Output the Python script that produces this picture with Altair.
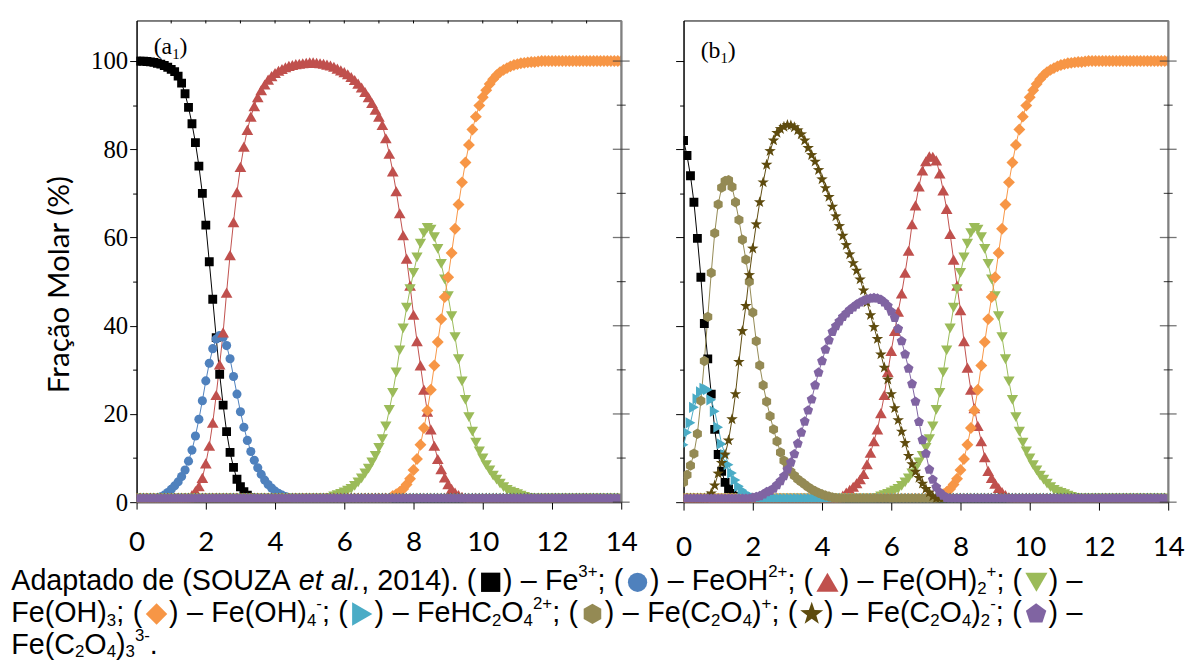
import altair as alt
import pandas as pd

# ---------------------------------------------------------------- data
N = 141                                   # pH 0.0 ... 14.0, step 0.1
PH = [round(i * 0.1, 1) for i in range(N)]
BASE = 0.8                                # level where ~0 % markers sit
TOP = 100.0

SPECIES = ["Fe3+", "FeOH2+", "Fe(OH)2+", "Fe(OH)3", "Fe(OH)4-",
           "FeHC2O4 2+", "Fe(C2O4)+", "Fe(C2O4)2-", "Fe(C2O4)3 3-"]
COLORS = ["#000000", "#4f81bd", "#c0504d", "#9bbb59", "#f79646",
          "#4bacc6", "#948a54", "#5e4b0e", "#8064a2"]
HEX = "M0,-1L0.866,-0.5L0.866,0.5L0,1L-0.866,0.5L-0.866,-0.5Z"
STAR = ("M0,-1L0.235,-0.324L0.951,-0.309L0.38,0.124L0.588,0.809L0,0.4"
        "L-0.588,0.809L-0.38,0.124L-0.951,-0.309L-0.235,-0.324Z")
PENT = "M0,-1L0.951,-0.309L0.588,0.809L-0.588,0.809L-0.951,-0.309Z"
SHAPES = ["square", "circle", "triangle-up", "triangle-down", "diamond",
          "triangle-right", HEX, STAR, PENT]
SIZES = [80, 85, 140, 130, 145, 130, 110, 150, 110]
CAP_SIZES = [380, 380, 500, 500, 470, 560, 420, 600, 470]

# panel (a1): Fe(III) hydrolysis -- (start pH, values every 0.1)
A_FE3 = (0.0, [100.0, 100.0, 100.0, 99.9, 99.8, 99.7, 99.5, 99.3, 99.0, 98.6,
               98.1, 97.6, 96.6, 95.0, 92.6, 89.5, 85.8, 81.5, 76.2, 70.0,
               62.8, 54.5, 46.0, 37.3, 29.0, 22.0, 16.0, 11.3, 7.9, 5.2,
               3.5, 2.4, 1.6, 1.1])
A_FEOH = (0.7, [1.2, 1.6, 2.2, 2.9, 3.7, 4.6, 5.8, 7.3, 9.3, 11.8,
                15.0, 18.8, 23.0, 27.5, 31.5, 34.8, 37.0, 37.8, 37.4, 35.5,
                32.5, 28.5, 24.5, 20.5, 17.0, 14.0, 11.5, 9.5, 7.8, 6.3,
                5.0, 4.0, 3.2, 2.5, 2.0, 1.6, 1.3, 1.0])
A_FEOH2 = (1.5, [0.9, 1.6, 2.5, 3.6, 5.5, 8.8, 12.8, 18.0, 24.3, 31.2,
                 38.5, 47.5, 56.0, 63.5, 70.3, 76.0, 80.6, 84.4, 87.4, 89.8,
                 91.8, 93.4, 94.7, 95.8, 96.6, 97.3, 97.8, 98.2, 98.6, 98.9,
                 99.1, 99.3, 99.4, 99.5, 99.6, 99.7, 99.7, 99.6, 99.5, 99.4,
                 99.2, 99.0, 98.7, 98.3, 97.9, 97.5, 97.0, 96.4, 95.7, 94.9,
                 94.0, 93.0, 91.8, 90.5, 89.0, 87.4, 85.5, 82.5, 79.0, 75.0,
                 70.5, 65.5, 60.5, 55.2, 49.1, 42.5, 36.5, 31.0, 25.5, 20.5,
                 16.5, 12.8, 9.8, 7.5, 5.6, 4.1, 3.0, 2.2, 1.6, 1.2, 0.9])
FEOH3 = (5.6, [1.0, 1.3, 1.6, 1.9, 2.2, 2.6, 3.0, 3.7, 4.5, 5.4,
               6.5, 7.6, 9.0, 10.5, 12.3, 14.3, 17.2, 20.9, 24.8, 29.4,
               34.4, 39.4, 44.1, 48.3, 52.0, 55.5, 58.6, 61.0, 62.2, 61.8,
               60.1, 57.4, 54.0, 50.5, 46.7, 42.2, 37.4, 32.4, 27.4, 23.2,
               19.3, 16.0, 13.5, 11.5, 9.9, 8.4, 7.2, 6.0, 5.1, 4.2,
               3.4, 2.8, 2.4, 2.1, 1.8, 1.5, 1.2, 1.0])
FEOH4 = (7.4, [1.4, 1.8, 2.3, 3.0, 4.0, 5.3, 7.3, 9.8, 13.0, 16.8,
               20.8, 25.5, 31.0, 36.3, 41.5, 46.5, 51.0, 56.5, 62.0, 67.5,
               72.5, 77.0, 81.0, 84.5, 87.4, 89.9, 91.8, 93.4, 94.8, 95.9,
               96.8, 97.5, 98.0, 98.4, 98.8, 99.1, 99.3, 99.5, 99.6, 99.7,
               99.8, 99.8, 99.9])

# panel (b1): with oxalate
B_FE3 = (0.0, [82.0, 78.6, 74.0, 68.0, 59.8, 51.0, 40.5, 32.5, 24.5, 16.5,
               10.8, 7.0, 4.5, 3.0, 2.0, 1.3])
B_FEOH2 = (4.5, [1.0, 1.5, 2.2, 2.8, 3.5, 4.3, 5.2, 6.4, 8.6, 11.2,
                 13.8, 16.5, 20.2, 24.3, 29.5, 34.3, 38.8, 43.2, 47.3, 52.0,
                 57.0, 63.0, 67.3, 71.6, 75.2, 77.3, 78.4, 78.3, 77.5, 74.5,
                 70.7, 66.5, 60.8, 55.0, 49.1, 43.5, 36.5, 30.5, 25.5, 21.3,
                 17.3, 13.8, 10.2, 7.1, 5.5, 4.2, 3.2, 2.3, 1.6, 1.1])
B_HOX = (0.0, [13.0, 15.8, 18.0, 21.5, 23.4, 25.0, 25.8, 25.5, 23.2, 20.6,
               17.0, 13.2, 10.8, 8.5, 6.6, 5.0, 3.6, 2.7, 2.0, 1.5, 1.2, 0.9])
B_OX1 = (0.0, [4.5, 6.2, 8.3, 11.0, 15.5, 23.0, 32.0, 42.0, 52.0, 61.0,
               67.5, 71.3, 72.8, 73.0, 71.5, 68.0, 64.0, 59.5, 55.0, 50.0,
               43.0, 36.5, 31.0, 26.5, 22.8, 19.5, 16.5, 13.8, 11.3, 9.4,
               8.0, 6.9, 6.0, 5.2, 4.6, 4.0, 3.4, 2.9, 2.5, 2.1,
               1.8, 1.5, 1.3, 1.1, 0.9])
B_OX2 = (0.6, [0.8, 1.2, 2.0, 3.8, 6.5, 8.9, 10.8, 14.0, 18.8, 24.5,
               31.8, 38.8, 44.5, 51.5, 57.5, 63.0, 68.0, 72.5, 76.5, 79.6,
               82.0, 83.7, 84.6, 85.1, 85.5, 85.4, 85.0, 84.3, 83.4, 82.0,
               80.3, 78.7, 77.2, 75.3, 73.2, 71.2, 69.2, 67.0, 64.8, 62.6,
               60.4, 58.3, 56.2, 54.2, 52.5, 50.5, 48.0, 45.3, 42.4, 39.7,
               37.0, 33.5, 30.5, 27.8, 24.5, 21.3, 18.6, 16.0, 13.4, 10.5,
               8.6, 6.9, 5.5, 4.2, 3.0, 2.2, 1.3, 0.8])
B_OX3 = (1.9, [0.8, 1.0, 1.2, 1.4, 1.8, 2.3, 2.6, 3.1, 3.9, 4.8,
               5.9, 7.4, 9.0, 10.9, 13.3, 15.8, 18.3, 20.8, 23.3, 26.5,
               29.4, 32.0, 34.6, 36.7, 38.6, 39.9, 41.0, 42.0, 42.8, 43.6,
               44.2, 44.8, 45.3, 45.7, 46.0, 46.2, 46.3, 46.2, 45.9, 45.3,
               44.5, 43.2, 41.8, 39.3, 36.5, 33.5, 30.3, 26.8, 22.8, 18.2,
               14.1, 11.0, 7.4, 5.1, 3.4, 2.2, 1.5, 1.0])
ZERO = (0.0, [])

PANEL_A = [A_FE3, A_FEOH, A_FEOH2, FEOH3, FEOH4, ZERO, ZERO, ZERO, ZERO]
PANEL_B = [B_FE3, ZERO, B_FEOH2, FEOH3, FEOH4, B_HOX, B_OX1, B_OX2, B_OX3]
AFTER = [BASE, BASE, BASE, BASE, TOP, BASE, BASE, BASE, BASE]

X_TICKS = list(range(0, 15))
Y_TICKS = list(range(0, 101, 10))
Y_MAJOR = list(range(0, 101, 20))
Y_MINOR = list(range(10, 100, 20))
TOP_TICKS = list(range(1, 14))

# ---------------------------------------------------------------- layout
W, H = 490, 487
PLOT_LEFT, PLOT_TOP = 136.7, 15.0


def spread(series, after):
    start, vals = series
    i0 = int(round(start * 10))
    out = [BASE] * i0 + list(vals)
    return out + [after] * (N - len(out))


def frame(panel):
    rows = []
    for k, (sp, ser, aft) in enumerate(zip(SPECIES, panel, AFTER)):
        for x, y in zip(PH, spread(ser, aft)):
            rows.append({"x": x, "y": y, "species": sp, "k": k, "sz": SIZES[k]})
    return pd.DataFrame(rows)


cscale = alt.Scale(domain=SPECIES, range=COLORS)
sscale = alt.Scale(domain=SPECIES, range=SHAPES)
xscale = alt.Scale(domain=[0, 14], nice=False, zero=False)
yscale = alt.Scale(domain=[0, 109.2], nice=False, zero=False)

# ---------------------------------------------------------------- caption
ARIAL = {" ": 278, "(": 333, ")": 333, "+": 584, ",": 278, "-": 333, ".": 278,
         ";": 278, "\u2013": 556, "A": 667, "C": 722, "F": 611, "H": 722,
         "O": 778, "S": 667, "U": 722, "Z": 611, "a": 556, "d": 556, "e": 556,
         "l": 222, "o": 556, "p": 556, "t": 278}
CAP_FS, SUB_FS = 29, 17
SUP_DY, SUB_DY = -13, 4
SYM_W = 27.0
D = " \u2013 "
CAPTION = [
    [("Adaptado de (SOUZA ", "n"), ("et al.", "i"), (", 2014). (", "n"),
     ("Fe3+", "sym"), (")" + D + "Fe", "n"), ("3+", "sup"), ("; (", "n"),
     ("FeOH2+", "sym"), (")" + D + "FeOH", "n"), ("2+", "sup"), ("; (", "n"),
     ("Fe(OH)2+", "sym"), (")" + D + "Fe(OH)", "n"), ("2", "sub"), ("+", "sup"),
     ("; (", "n"), ("Fe(OH)3", "sym"), (") \u2013", "n")],
    [("Fe(OH)", "n"), ("3", "sub"), ("; (", "n"), ("Fe(OH)4-", "sym"),
     (")" + D + "Fe(OH)", "n"), ("4", "sub"), ("-", "sup"), ("; (", "n"),
     ("FeHC2O4 2+", "sym"), (")" + D + "FeHC", "n"), ("2", "sub"), ("O", "n"),
     ("4", "sub"), ("2+", "sup"), ("; (", "n"), ("Fe(C2O4)+", "sym"),
     (")" + D + "Fe(C", "n"), ("2", "sub"), ("O", "n"), ("4", "sub"), (")", "n"),
     ("+", "sup"), ("; (", "n"), ("Fe(C2O4)2-", "sym"), (")" + D + "Fe(C", "n"),
     ("2", "sub"), ("O", "n"), ("4", "sub"), (")", "n"), ("2", "sub"),
     ("-", "sup"), ("; (", "n"), ("Fe(C2O4)3 3-", "sym"), (") \u2013", "n")],
    [("Fe(C", "n"), ("2", "sub"), ("O", "n"), ("4", "sub"), (")", "n"),
     ("3", "sub"), ("3-", "sup"), (".", "n")],
]
CAP_BASE = [591, 623, 655]
CAP_LEFT = 10
CAP_RIGHT = [1093, 1093, None]


def tw(s, fs):
    return sum(ARIAL.get(c, 556) for c in s) * fs / 1000.0


def layout_caption():
    texts, syms = [], []
    for segs, by, right in zip(CAPTION, CAP_BASE, CAP_RIGHT):
        nat, nsp = 0.0, 0
        for s, kind in segs:
            if kind == "sym":
                nat += SYM_W
            elif kind in ("sup", "sub"):
                nat += tw(s, SUB_FS)
            else:
                nat += tw(s, CAP_FS)
                nsp += s.count(" ")
        extra = (right - CAP_LEFT - nat) / nsp if right else 0.0
        x = CAP_LEFT
        for s, kind in segs:
            if kind == "sym":
                k = SPECIES.index(s)
                syms.append({"px": x + SYM_W / 2 + 1 - PLOT_LEFT,
                             "py": by - 8 - PLOT_TOP, "species": s,
                             "sz": CAP_SIZES[k]})
                x += SYM_W
            elif kind in ("sup", "sub"):
                dy = SUP_DY if kind == "sup" else SUB_DY
                texts.append({"px": x - PLOT_LEFT, "py": by + dy - PLOT_TOP,
                              "t": s, "fs": SUB_FS, "st": "normal"})
                x += tw(s, SUB_FS)
            else:
                st = "italic" if kind == "i" else "normal"
                word = ""
                for ch in s + "\0":
                    if ch in (" ", "\0"):
                        if word:
                            texts.append({"px": x - PLOT_LEFT, "py": by - PLOT_TOP,
                                          "t": word, "fs": CAP_FS, "st": st})
                            x += tw(word, CAP_FS)
                        word = ""
                        if ch == " ":
                            x += tw(" ", CAP_FS) + extra
                    else:
                        word += ch
    return pd.DataFrame(texts), pd.DataFrame(syms)


CAP_TEXT, CAP_SYMS = layout_caption()


# ---------------------------------------------------------------- panels
def one_row():
    return pd.DataFrame({"a": [0]})


def panel(df, left_labels, xpad, xmajor, ymajor_len, label, label_y, top_ticks):
    xaxis = alt.Axis(values=X_TICKS, title=None, grid=False, labelFlush=False,
                     labelOverlap=False,
                     tickSize={"condition": {"test": "datum.value % 2 === 0", "value": xmajor},
                               "value": 4},
                     labelExpr="datum.value % 2 === 0 ? datum.label : ''",
                     labelFont="Lato", labelFontSize=28, labelColor="black",
                     labelPadding=xpad, domainColor="black", tickColor="black")
    yaxis = alt.Axis(values=Y_TICKS, title=None, grid=False, labelFlush=False,
                     labelOverlap=False, labels=left_labels,
                     tickSize={"condition": {"test": "datum.value % 20 === 0", "value": ymajor_len},
                               "value": 4},
                     labelExpr="datum.value % 20 === 0 ? datum.label : ''",
                     labelFont="Liberation Serif", labelFontSize=25, labelColor="black",
                     labelPadding=2, domainColor="black", tickColor="black")
    base = alt.Chart(df)
    lines = base.mark_line(strokeWidth=1, clip=True).encode(
        x=alt.X("x:Q", scale=xscale, axis=xaxis),
        y=alt.Y("y:Q", scale=yscale, axis=yaxis),
        color=alt.Color("species:N", scale=cscale, legend=None),
        detail="species:N")
    pts = base.mark_point(filled=True, opacity=1, clip=True).encode(
        x="x:Q", y="y:Q",
        color=alt.Color("species:N", scale=cscale, legend=None),
        shape=alt.Shape("species:N", scale=sscale, legend=None),
        size=alt.Size("sz:Q", scale=None),
        order=alt.Order("k:Q"))
    right_line = alt.Chart(one_row()).mark_rule(color="#808080", strokeWidth=2).encode(
        x=alt.value(W), y=alt.value(0), y2=alt.value(H))
    rt_major = alt.Chart(pd.DataFrame({"v": Y_MAJOR})).mark_tick(
        orient="horizontal", size=17, thickness=1.3, color="#3a3a3a").encode(
        x=alt.value(W), y="v:Q")
    rt_minor = alt.Chart(pd.DataFrame({"v": Y_MINOR})).mark_tick(
        orient="horizontal", size=9, thickness=1.2, color="#111").encode(
        x=alt.value(W), y="v:Q")
    t1 = alt.Chart(one_row()).mark_text(font="Liberation Serif", fontSize=24,
                                        align="left", baseline="alphabetic", color="black").encode(
        x=alt.value(17.3), y=alt.value(label_y), text=alt.value("(" + label))
    lw = 17.3 + (333 + (444 if label == "a" else 500)) * 24 / 1000
    t2 = alt.Chart(one_row()).mark_text(font="Liberation Serif", fontSize=15,
                                        align="left", baseline="alphabetic", color="black").encode(
        x=alt.value(lw), y=alt.value(label_y + 5), text=alt.value("1"))
    t3 = alt.Chart(one_row()).mark_text(font="Liberation Serif", fontSize=24,
                                        align="left", baseline="alphabetic", color="black").encode(
        x=alt.value(lw + 7.5), y=alt.value(label_y), text=alt.value(")"))
    layers = [lines, pts, right_line, rt_major, rt_minor, t1, t2, t3]
    if top_ticks:
        layers.append(alt.Chart(pd.DataFrame({"v": TOP_TICKS})).mark_rule(
            color="black", strokeWidth=1).encode(
            x="v:Q", y=alt.value(0), y2=alt.value(3)))
    return layers


layers_a = panel(frame(PANEL_A), True, 20, 7, 7, "a", 34.3, True)
ytitle = alt.Chart(one_row()).mark_text(font="Lato", fontSize=30, angle=270,
                                        align="center", baseline="alphabetic",
                                        color="black").encode(
    x=alt.value(-68.7), y=alt.value(267), text=alt.value("Fração Molar (%)"))
cap_n = alt.Chart(CAP_TEXT[CAP_TEXT.st == "normal"]).mark_text(
    font="Liberation Sans", align="left", baseline="alphabetic", color="black").encode(
    x=alt.X("px:Q", scale=None, axis=None), y=alt.Y("py:Q", scale=None, axis=None),
    text="t:N", size=alt.Size("fs:Q", scale=None))
cap_i = alt.Chart(CAP_TEXT[CAP_TEXT.st == "italic"]).mark_text(
    font="Liberation Sans", fontStyle="italic", align="left", baseline="alphabetic",
    color="black").encode(
    x=alt.X("px:Q", scale=None, axis=None), y=alt.Y("py:Q", scale=None, axis=None),
    text="t:N", size=alt.Size("fs:Q", scale=None))
cap_s = alt.Chart(CAP_SYMS).mark_point(filled=True, opacity=1).encode(
    x=alt.X("px:Q", scale=None, axis=None), y=alt.Y("py:Q", scale=None, axis=None),
    color=alt.Color("species:N", scale=cscale, legend=None),
    shape=alt.Shape("species:N", scale=sscale, legend=None),
    size=alt.Size("sz:Q", scale=None))

panel_a = alt.layer(*layers_a, ytitle, cap_n, cap_i, cap_s).properties(width=W, height=H)
layers_b = panel(frame(PANEL_B), False, 24, 8, 8, "b", 38.3, False)
panel_b = alt.layer(*layers_b).properties(width=W, height=H)

chart = alt.hconcat(panel_a, panel_b, spacing=63, bounds="flush").properties(
    padding={"left": 2, "top": 7, "right": 2, "bottom": 0}
).configure_view(stroke="black", strokeWidth=1)

chart.save("out.html", embed_options={"renderer": "svg", "actions": False})
